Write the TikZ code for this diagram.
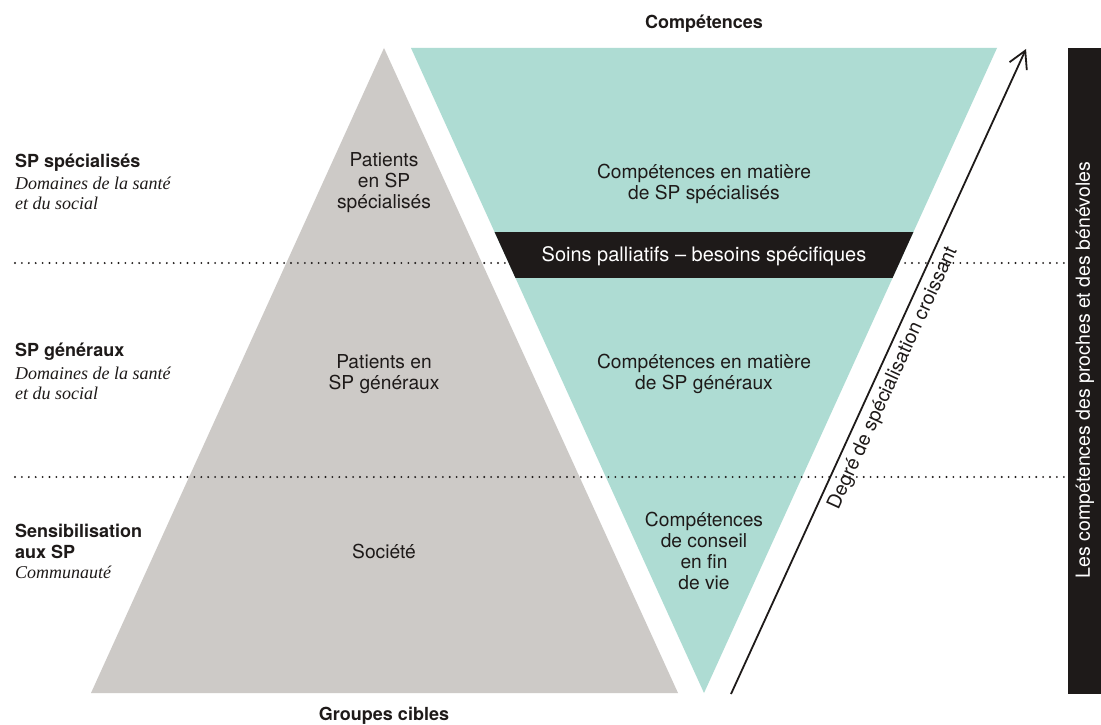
\documentclass[tikz,border=0pt]{standalone}
\usepackage{fontspec}
\setmainfont{TeX Gyre Heros}
\newfontfamily\serifit{Liberation Serif}
\usetikzlibrary{arrows.meta}

\definecolor{greyfill}{HTML}{CDCAC7}
\definecolor{tealfill}{HTML}{AEDCD3}
\definecolor{inkblack}{HTML}{1E1A19}

\tikzset{
  bodytext/.style={align=center, text=inkblack, inner sep=0pt,
    font=\fontsize{19.2}{21}\selectfont},
  sidehead/.style={align=left, anchor=west, text=inkblack, inner sep=0pt,
    font=\fontsize{18}{21}\selectfont\bfseries},
  sidesub/.style={align=left, anchor=west, text=inkblack, inner sep=0pt,
    font=\fontsize{18}{20}\selectfont\serifit\itshape},
  dotline/.style={line width=2.1pt, line cap=round, dash pattern=on 0pt off 6.9pt, inkblack},
}

\begin{document}
\begin{tikzpicture}[x=1pt, y=-1pt]
      \useasboundingbox (0,0) rectangle (1101,725);
      \fill[white] (0,0) rectangle (1101,725);

      % the two triangles
      \fill[greyfill] (384,48) -- (678,693) -- (91,693) -- cycle;
      \fill[tealfill] (411,48) -- (997,48) -- (704,693) -- cycle;

      % level separators
      \draw[dotline] (15,263) -- (1068,263);
      \draw[dotline] (15,477) -- (1068,477);

      % black band, cut to the teal triangle
      \begin{scope}
        \clip (411,48) -- (997,48) -- (704,693) -- cycle;
        \fill[inkblack] (400,232) rectangle (1000,278);
      \end{scope}
      \node[text=white, inner sep=0pt, font=\fontsize{20}{22}\selectfont] (band) at (704,256) {Soins palliatifs -- besoins spécifiques};

      % right column
      \fill[inkblack] (1068,48) rectangle (1101,694);
      \node[rotate=90, text=white, inner sep=0pt, font=\fontsize{19.5}{20}\selectfont] (proches) at (1085,370) {Les compétences des proches et des bénévoles};

      % axis titles
      \node[bodytext, font=\fontsize{18}{21}\selectfont\bfseries] (comp) at (704,24) {Compétences};
      \node[bodytext, font=\fontsize{18}{21}\selectfont\bfseries] (groupes) at (384,716) {Groupes cibles};

      % arrow
      \coordinate (arrowlow) at (731,694);
      \coordinate (arrowhigh) at (1026,49);
      \draw[line width=1.8pt, inkblack, -{Straight Barb[length=17pt, width=19pt, line width=1.8pt]}] (arrowlow) -- (arrowhigh)
        node[pos=0.5, sloped, below=6pt, inner sep=0pt, text=inkblack, font=\fontsize{19.5}{20}\selectfont] (degre) {Degré de spécialisation croissant};

      % left labels
      \node[sidehead] (spspec) at (15,163) {SP spécialisés};
      \node[sidesub] (spspecsub) at (15,193) {Domaines de la santé\\et du social};
      \node[sidehead] (spgen) at (15,352) {SP généraux};
      \node[sidesub] (spgensub) at (15,383) {Domaines de la santé\\et du social};
      \node[sidehead] (sensib) at (15,541) {Sensibilisation\\aux SP};
      \node[sidesub] (commun) at (15,572) {Communauté};

      % grey triangle
      \node[bodytext] (patspec) at (384,183) {Patients\\en SP\\spécialisés};
      \node[bodytext] (patgen) at (384,374) {Patients en\\SP généraux};
      \node[bodytext] (societe) at (384,551) {Société};

      % teal triangle
      \node[bodytext] (compspec) at (704,184) {Compétences en matière\\de SP spécialisés};
      \node[bodytext] (compgen) at (704,374) {Compétences en matière\\de SP généraux};
      \node[bodytext] (compvie) at (704,551) {Compétences\\de conseil\\en fin\\de vie};
\end{tikzpicture}
\end{document}
